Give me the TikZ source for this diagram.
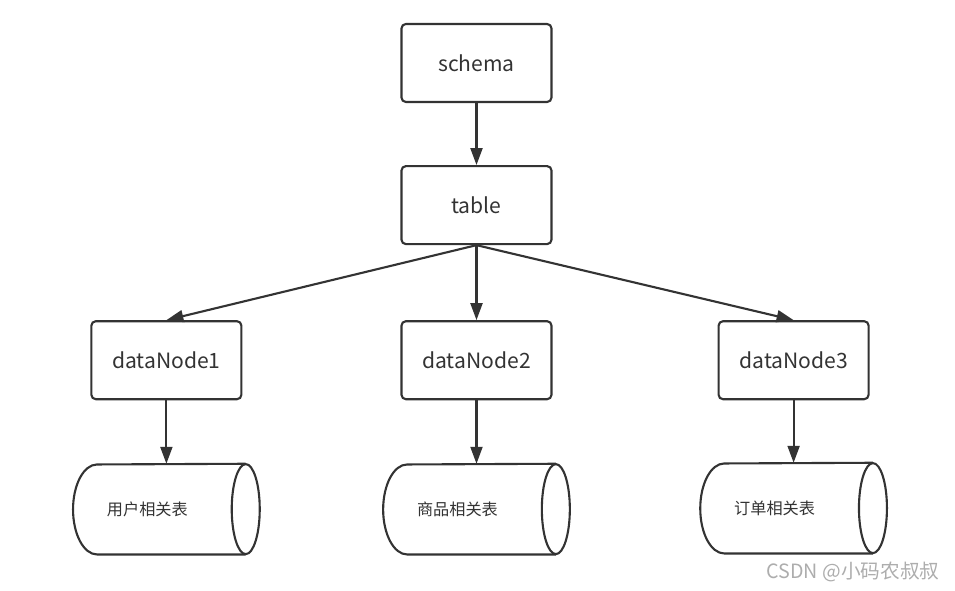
\documentclass[tikz,border=0pt]{standalone}
\usepackage{fontspec}
\setmainfont{Noto Sans CJK SC}
\usetikzlibrary{shapes.geometric, arrows.meta, positioning}
\definecolor{cLine}{HTML}{333333}
\definecolor{cText}{HTML}{333333}
\definecolor{cMark}{HTML}{ADADAD}
\tikzset{
  box/.style = {
    rectangle,
    draw=cLine,
    line width=1.2pt,
    rounded corners=2.5pt,
    text=cText,
    minimum width=3.0cm,
    minimum height=1.56cm,
    font=\fontsize{12}{14}\selectfont
  },
  store/.style = {
    rectangle,
    minimum width=3.72cm,
    minimum height=1.8cm,
    inner sep=0pt
  },
  wall/.style = {
    draw=cLine,
    line width=1.2pt
  },
  tag/.style = {
    text=cText,
    font=\fontsize{9.2}{11}\selectfont
  },
  line/.style = {
    draw,
    color=cLine,
    line width=1.2pt,
    -{Triangle[length=3.4mm,width=2.4mm]}
  },
}
\begin{document}
\begin{tikzpicture}
    \useasboundingbox (-9.53,1.26) rectangle (9.57,-10.56);
    \node [box] (schema) at (0,0) {schema};
    \node [box, below=1.24cm of schema] (table) {table};
    \node [box, below=1.5cm of table] (dataNode2) {dataNode2};
    \node [box, left=3.16cm of dataNode2] (dataNode1) {dataNode1};
    \node [box, right=3.3cm of dataNode2] (dataNode3) {dataNode3};
    \node [store, below=1.27cm of dataNode1, label={[tag, xshift=-0.38cm]center:用户相关表}] (store1) {};
    \node [store, below=1.27cm of dataNode2, label={[tag, xshift=-0.38cm]center:商品相关表}] (store2) {};
    \node [store, below=1.25cm of dataNode3, label={[tag, xshift=-0.38cm]center:订单相关表}] (store3) {};
    \node [text=cMark, font=\fontsize{11.2}{13}\selectfont, anchor=east, inner sep=0pt] (mark) at (9.27,-10.18) {CSDN @小码农叔叔};
    % cylinders
    \foreach \s in {store1, store2, store3} {
      \draw [wall] ([xshift=-0.28cm]\s.south east) -- ([xshift=0.48cm]\s.south west)
        arc [start angle=270, end angle=90, x radius=0.48cm, y radius=0.9cm]
        -- ([xshift=-0.28cm]\s.north east);
      \draw [wall] ([xshift=-0.28cm]\s.east) ellipse [x radius=0.28cm, y radius=0.9cm];
    }
    \path [line] (schema) -- (table);
    \path [line] (table.south) -- (dataNode1.north);
    \path [line] (table.south) -- (dataNode2.north);
    \path [line] (table.south) -- (dataNode3.north);
    \path [line] (dataNode1) -- (store1);
    \path [line] (dataNode2) -- (store2);
    \path [line] (dataNode3) -- (store3);
\end{tikzpicture}
\end{document}
